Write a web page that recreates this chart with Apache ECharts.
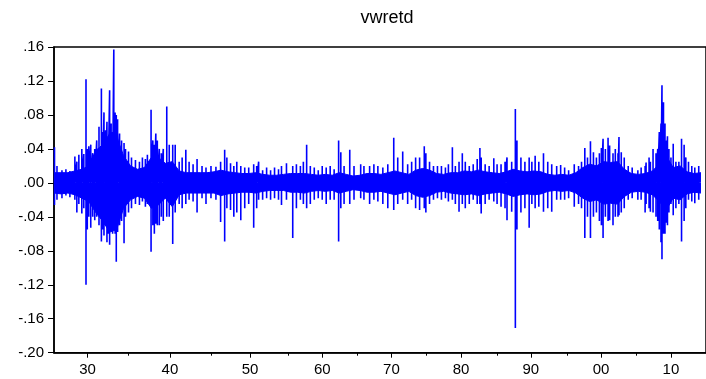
<!DOCTYPE html>
<html>
<head>
<meta charset="utf-8">
<script src="https://cdn.jsdelivr.net/npm/echarts@6/dist/echarts.min.js"></script>
<style>
  html, body { margin: 0; padding: 0; background: #fff; }
  #chart { width: 706px; height: 379px; }
</style>
</head>
<body>
<div id="chart"></div>
<script>
// x axis is the observation (trading day) index, as in the original plot
const decadeLabels = ["30", "40", "50", "60", "70", "80", "90", "00", "10"];
const decadeObs = [1203, 4166, 7044, 9639, 12127, 14626, 17136, 19660, 22170];
const halfDecadeObs = [2678, 5666, 8400, 10899, 13388, 15911, 18432, 20931];
const lastObs = 23430;

// dense core of the series, sampled every bandStep trading days
const bandStep = 250;
const bandHi = [
  .012, .012, .012, .014, .016, .020, .038, .045, .058, .055,
  .032, .020, .016, .018, .030, .030, .023, .025, .014, .012,
  .012, .012, .012, .013, .015, .013, .012, .011, .011, .012,
  .010, .009, .009, .010, .011, .011, .011, .010, .009, .010,
  .009, .012, .010, .008, .009, .011, .011, .010, .012, .014,
  .012, .010, .015, .017, .015, .011, .010, .012, .012, .014,
  .013, .015, .013, .012, .011, .013, .016, .014, .013, .014,
  .013, .010, .009, .010, .009, .012, .018, .022, .020, .025,
  .024, .025, .016, .011, .010, .011, .014, .022, .032, .018,
  .020, .013, .011, .012
];
const bandLo = [
  -.012, -.013, -.012, -.014, -.018, -.022, -.035, -.045, -.058, -.055,
  -.030, -.020, -.016, -.018, -.030, -.026, -.018, -.028, -.014, -.012,
  -.012, -.012, -.012, -.012, -.015, -.013, -.012, -.011, -.011, -.012,
  -.010, -.009, -.009, -.009, -.011, -.011, -.012, -.010, -.009, -.010,
  -.009, -.012, -.010, -.008, -.009, -.011, -.011, -.010, -.012, -.014,
  -.012, -.010, -.015, -.017, -.015, -.011, -.010, -.012, -.013, -.014,
  -.013, -.015, -.013, -.012, -.011, -.013, -.016, -.014, -.013, -.014,
  -.013, -.010, -.009, -.010, -.009, -.012, -.018, -.022, -.020, -.025,
  -.024, -.025, -.016, -.011, -.010, -.011, -.014, -.022, -.032, -.018,
  -.020, -.013, -.011, -.012
];

// individual large daily moves: observation, high, low
const spikeObs = [
  18, 107, 286, 428, 571, 750, 821, 893, 1000, 1071,
  1150, 1196, 1250, 1321, 1392, 1464, 1535, 1617, 1703, 1749,
  1796, 1856, 1903, 1946, 1999, 2053, 2106, 2149, 2196, 2238,
  2285, 2356, 2428, 2517, 2570, 2678, 2785, 2927, 3070, 3177,
  3284, 3356, 3488, 3552, 3606, 3659, 3713, 3784, 3856, 3927,
  4052, 4141, 4266, 4355, 4498, 4605, 4737, 4855, 4998, 5141,
  5319, 5462, 5641, 5819, 5987, 6133, 6212, 6344, 6462, 6569,
  6712, 6854, 6997, 7176, 7283, 7354, 7497, 7640, 7783, 7925,
  8068, 8175, 8354, 8579, 8711, 8854, 8961, 9079, 9211, 9353,
  9496, 9639, 9782, 9925, 10067, 10228, 10307, 10424, 10628, 10781,
  11021, 11138, 11342, 11495, 11638, 11817, 11995, 12209, 12352, 12531,
  12709, 12852, 12995, 13138, 13306, 13363, 13495, 13637, 13780, 13923,
  14066, 14173, 14316, 14423, 14555, 14673, 14780, 14923, 15065, 15208,
  15305, 15351, 15494, 15637, 15804, 15922, 16065, 16208, 16279, 16447,
  16579, 16636, 16779, 16922, 17075, 17172, 17290, 17422, 17590, 17743,
  17886, 18064, 18207, 18350, 18493, 18696, 18850, 18957, 19075, 19171,
  19278, 19385, 19492, 19599, 19671, 19731, 19814, 19910, 19967, 20088,
  20171, 20267, 20303, 20385, 20492, 20635, 20777, 20981, 21099, 21242,
  21277, 21384, 21431, 21527, 21634, 21695, 21752, 21813, 21848, 21902,
  21956, 21991, 22045, 22098, 22170, 22252, 22348, 22455, 22551, 22644,
  22705, 22801, 22919, 23027, 23169
];
const spikeUp = [
  .042, .020, .015, .016, .014, .031, .025, .033, .040, .034,
  .122, .040, .043, .045, .035, .040, .050, .066, .111, .060,
  .083, .062, .072, .050, .109, .070, .060, .157, .083, .080,
  .075, .058, .050, .047, .040, .037, .030, .027, .025, .030,
  .028, .033, .086, .050, .045, .058, .050, .040, .035, .040,
  .090, .045, .045, .045, .025, .030, .039, .025, .022, .028,
  .020, .018, .020, .019, .025, .039, .030, .023, .020, .025,
  .020, .018, .018, .022, .020, .025, .015, .018, .015, .018,
  .016, .020, .023, .020, .022, .020, .025, .045, .020, .018,
  .015, .020, .018, .020, .016, .050, .036, .020, .039, .020,
  .022, .020, .020, .022, .020, .018, .022, .053, .030, .037,
  .022, .025, .030, .030, .043, .035, .025, .020, .020, .020,
  .018, .022, .042, .020, .025, .035, .025, .020, .022, .028,
  .041, .030, .022, .020, .029, .022, .022, .025, .030, .025,
  .087, .050, .030, .025, .030, .025, .032, .025, .035, .025,
  .022, .020, .021, .018, .015, .022, .020, .025, .041, .030,
  .049, .036, .030, .035, .041, .052, .040, .053, .044, .035,
  .040, .035, .054, .036, .030, .020, .018, .015, .018, .020,
  .024, .030, .025, .040, .035, .040, .060, .070, .115, .095,
  .070, .050, .055, .040, .030, .046, .025, .025, .052, .045,
  .030, .025, .020, .018, .020
];
const spikeDown = [
  -.026, -.020, -.018, -.015, -.017, -.020, -.035, -.025, -.036, -.030,
  -.120, -.055, -.040, -.053, -.040, -.044, -.040, -.050, -.069, -.055,
  -.062, -.050, -.070, -.060, -.073, -.050, -.060, -.045, -.060, -.093,
  -.058, -.050, -.045, -.071, -.040, -.035, -.030, -.025, -.026, -.022,
  -.028, -.025, -.081, -.050, -.060, -.048, -.050, -.050, -.040, -.045,
  -.040, -.040, -.072, -.035, -.025, -.030, -.025, -.020, -.022, -.035,
  -.018, -.025, -.018, -.020, -.046, -.069, -.030, -.032, -.040, -.035,
  -.044, -.030, -.025, -.053, -.030, -.020, -.020, -.018, -.020, -.018,
  -.020, -.026, -.020, -.065, -.030, -.020, -.025, -.030, -.025, -.020,
  -.018, -.020, -.025, -.020, -.020, -.069, -.030, -.025, -.025, -.020,
  -.018, -.020, -.025, -.020, -.022, -.025, -.030, -.032, -.025, -.020,
  -.025, -.020, -.030, -.032, -.030, -.035, -.025, -.020, -.018, -.020,
  -.018, -.022, -.020, -.025, -.034, -.025, -.030, -.025, -.020, -.025,
  -.025, -.036, -.025, -.020, -.022, -.025, -.028, -.030, -.044, -.034,
  -.171, -.055, -.035, -.030, -.053, -.025, -.030, -.028, -.034, -.030,
  -.034, -.020, -.020, -.020, -.018, -.028, -.025, -.030, -.065, -.040,
  -.065, -.040, -.035, -.045, -.050, -.065, -.040, -.045, -.044, -.050,
  -.040, -.040, -.038, -.035, -.030, -.020, -.018, -.020, -.020, -.035,
  -.025, -.030, -.034, -.035, -.040, -.045, -.055, -.070, -.090, -.060,
  -.060, -.047, -.050, -.035, -.025, -.038, -.030, -.025, -.069, -.045,
  -.030, -.020, -.022, -.024, -.020
];

const font = "'Liberation Sans', Arial, Helvetica, sans-serif";
const blue = "#0000ff";

const hiData = bandHi.map((v, i) => [i * bandStep, v]);
const loData = bandLo.map((v, i) => [i * bandStep, v]);
const spikeData = [];
spikeObs.forEach((o, i) => {
  spikeData.push([o, 0], [o, spikeUp[i]], [o, spikeDown[i]], [o, 0]);
});

const chart = echarts.init(document.getElementById("chart"), null, { renderer: "canvas" });
chart.setOption({
  animation: false,
  backgroundColor: "#fff",
  title: {
    text: "vwretd",
    left: 382,
    textAlign: "center",
    top: 4,
    textStyle: { fontFamily: font, fontSize: 18, fontWeight: "normal", color: "#000" }
  },
  grid: {
    left: 54,
    top: 47,
    width: 656,
    height: 305.7,
    show: true,
    borderColor: "#000",
    borderWidth: 1.5,
    backgroundColor: "transparent"
  },
  xAxis: [
    {
      type: "value",
      min: 0,
      max: lastObs,
      splitLine: { show: false },
      axisLine: { onZero: false, lineStyle: { color: "#000", width: 1.5 } },
      axisTick: { customValues: decadeObs, length: 5, lineStyle: { color: "#000" } },
      axisLabel: {
        customValues: decadeObs,
        formatter: (v) => decadeLabels[decadeObs.indexOf(v)] || "",
        fontFamily: font,
        fontSize: 15,
        color: "#000",
        margin: 10
      }
    },
    {
      type: "value",
      min: 0,
      max: lastObs,
      position: "bottom",
      splitLine: { show: false },
      axisLine: { show: false, onZero: false },
      axisTick: { customValues: halfDecadeObs, length: 3, lineStyle: { color: "#000" } },
      axisLabel: { show: false }
    }
  ],
  yAxis: {
    type: "value",
    min: -0.2,
    max: 0.16,
    interval: 0.04,
    splitLine: { show: false },
    axisLine: { show: true, lineStyle: { color: "#000", width: 1.5 } },
    axisTick: { show: true, length: 6, lineStyle: { color: "#000" } },
    axisLabel: {
      fontFamily: font,
      fontSize: 15,
      color: "#000",
      margin: 10,
      formatter: (v) => v.toFixed(2).replace(/^(-?)0\./, "$1.")
    }
  },
  series: [
    {
      name: "core hi",
      type: "line",
      data: hiData,
      showSymbol: false,
      lineStyle: { color: blue, width: 1 },
      areaStyle: { color: blue, opacity: 1, origin: "auto" }
    },
    {
      name: "core lo",
      type: "line",
      data: loData,
      showSymbol: false,
      lineStyle: { color: blue, width: 1 },
      areaStyle: { color: blue, opacity: 1, origin: "auto" }
    },
    {
      name: "vwretd",
      type: "line",
      data: spikeData,
      showSymbol: false,
      lineStyle: { color: blue, width: 1.6 }
    }
  ]
});
</script>
</body>
</html>
